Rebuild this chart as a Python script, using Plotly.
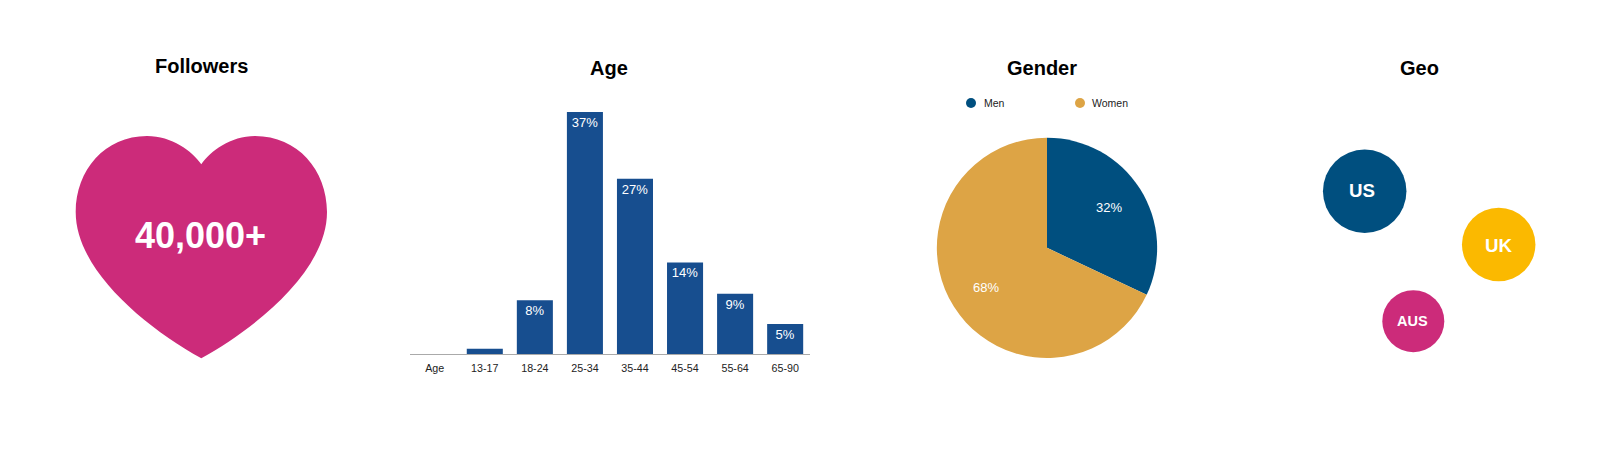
import plotly.graph_objects as go

W, H = 1622, 458
FONT = "Liberation Sans"

# Data
age_groups = ["Age", "13-17", "18-24", "25-34", "35-44", "45-54", "55-64", "65-90"]
age_values = [0, 0.8, 8.2, 37, 26.8, 14, 9.2, 4.6]
age_labels = ["", "", "8%", "37%", "27%", "14%", "9%", "5%"]

gender_labels = ["Men", "Women"]
gender_values = [32, 68]
gender_text = ["32%", "68%"]

geo_names = ["US", "UK", "AUS"]
geo_x = [1364.7, 1498.7, 1413.3]
geo_y = [191.3, 244.5, 321.2]
geo_size = [83.5, 73.5, 62]
geo_font = [18.7, 18.7, 14.5]

followers_text = "40,000+"
titles = ["Followers", "Age", "Gender", "Geo"]

BAR = "#174E8F"
MEN = "#004F7F"
WOMEN = "#DDA445"
PINK = "#CC2B7A"
GOLD = "#FBB900"

fig = go.Figure()

# Age bars
fig.add_trace(go.Bar(
    x=age_groups, y=age_values, text=age_labels,
    marker=dict(color=BAR, line=dict(width=0)),
    textposition="inside", insidetextanchor="end", textangle=0,
    insidetextfont=dict(color="white", size=13, family=FONT),
    cliponaxis=False, hoverinfo="skip", xaxis="x", yaxis="y",
))

# Gender pie
fig.add_trace(go.Pie(
    labels=gender_labels, values=gender_values, sort=False, direction="clockwise",
    rotation=0, textinfo="none", hoverinfo="skip", showlegend=False,
    marker=dict(colors=[MEN, WOMEN], line=dict(width=0)),
    domain=dict(x=[936.7 / W, 1157.3 / W], y=[1 - 358 / H, 1 - 137.7 / H]),
))

# Gender legend dots
fig.add_trace(go.Scatter(
    x=[971, 1080], y=[103, 103], mode="markers",
    marker=dict(size=10, color=[MEN, WOMEN], opacity=1, line=dict(width=0)),
    hoverinfo="skip", xaxis="x2", yaxis="y2", showlegend=False,
))

# Geo bubbles
fig.add_trace(go.Scatter(
    x=geo_x, y=geo_y, mode="markers",
    marker=dict(size=geo_size, color=[MEN, GOLD, PINK], opacity=1, line=dict(width=0)),
    hoverinfo="skip", xaxis="x2", yaxis="y2", showlegend=False, cliponaxis=False,
))

annotations = []


def label(x, y, text, size, color="black", bold=False, xanchor="center"):
    annotations.append(dict(
        x=x, y=y, xref="x2", yref="y2", text=f"<b>{text}</b>" if bold else text,
        showarrow=False, xanchor=xanchor, yanchor="middle",
        font=dict(family=FONT, size=size, color=color),
        borderpad=0,
    ))


for t, x, y in zip(titles, [201, 608.7, 1042, 1419], [66, 68, 68, 68]):
    label(x, y, t, 20, bold=True)
label(200, 235, followers_text, 36, color="white", bold=True)
label(1109, 207.7, gender_text[0], 13, color="white")
label(985.7, 287.7, gender_text[1], 13, color="white")
label(982.5, 103, gender_labels[0], 10.5, color="#222222", xanchor="left")
label(1091, 103, gender_labels[1], 10.5, color="#222222", xanchor="left")
for n, x, y, s in zip(geo_names, [1362, 1498, 1412.3], [190.5, 245, 321], geo_font):
    label(x, y, n, s, color="white", bold=True)

heart = (
    "M 201.3 164.3 "
    "C 192 151 172 136 147 136 "
    "C 105 136 75.7 170 75.7 212 "
    "C 75.7 270 145 327 201.3 358.3 "
    "C 257.6 327 327 270 327 212 "
    "C 327 170 297.6 136 255 136 "
    "C 230.6 136 210.6 151 201.3 164.3 Z"
)

fig.update_layout(
    width=W, height=H, autosize=False,
    margin=dict(l=0, r=0, t=0, b=0, pad=0),
    paper_bgcolor="white", plot_bgcolor="rgba(0,0,0,0)",
    showlegend=False, bargap=0.28, hovermode=False,
    font=dict(family=FONT),
    xaxis=dict(
        domain=[409.7 / W, 810.2 / W], type="category", range=[-0.5, 7.5],
        showgrid=False, zeroline=False, showline=True, linecolor="#AAAAAA", linewidth=1,
        ticks="", ticklabelstandoff=4, tickfont=dict(family=FONT, size=10.7, color="#222222"),
        anchor="y", fixedrange=True,
    ),
    yaxis=dict(
        domain=[(H - 354) / H, (H - 92.4) / H], range=[0, 40],
        visible=False, anchor="x", fixedrange=True,
    ),
    xaxis2=dict(domain=[0, 1], range=[0, W], visible=False, anchor="y2", fixedrange=True),
    yaxis2=dict(domain=[0, 1], range=[H, 0], visible=False, anchor="x2", fixedrange=True),
    annotations=annotations,
    shapes=[dict(type="path", path=heart, xref="x2", yref="y2",
                 fillcolor=PINK, line=dict(width=0), layer="below")],
)

fig.write_html("out.html", config=dict(displayModeBar=False),
               post_script="document.body.style.margin='0';document.body.style.overflow='hidden';")
